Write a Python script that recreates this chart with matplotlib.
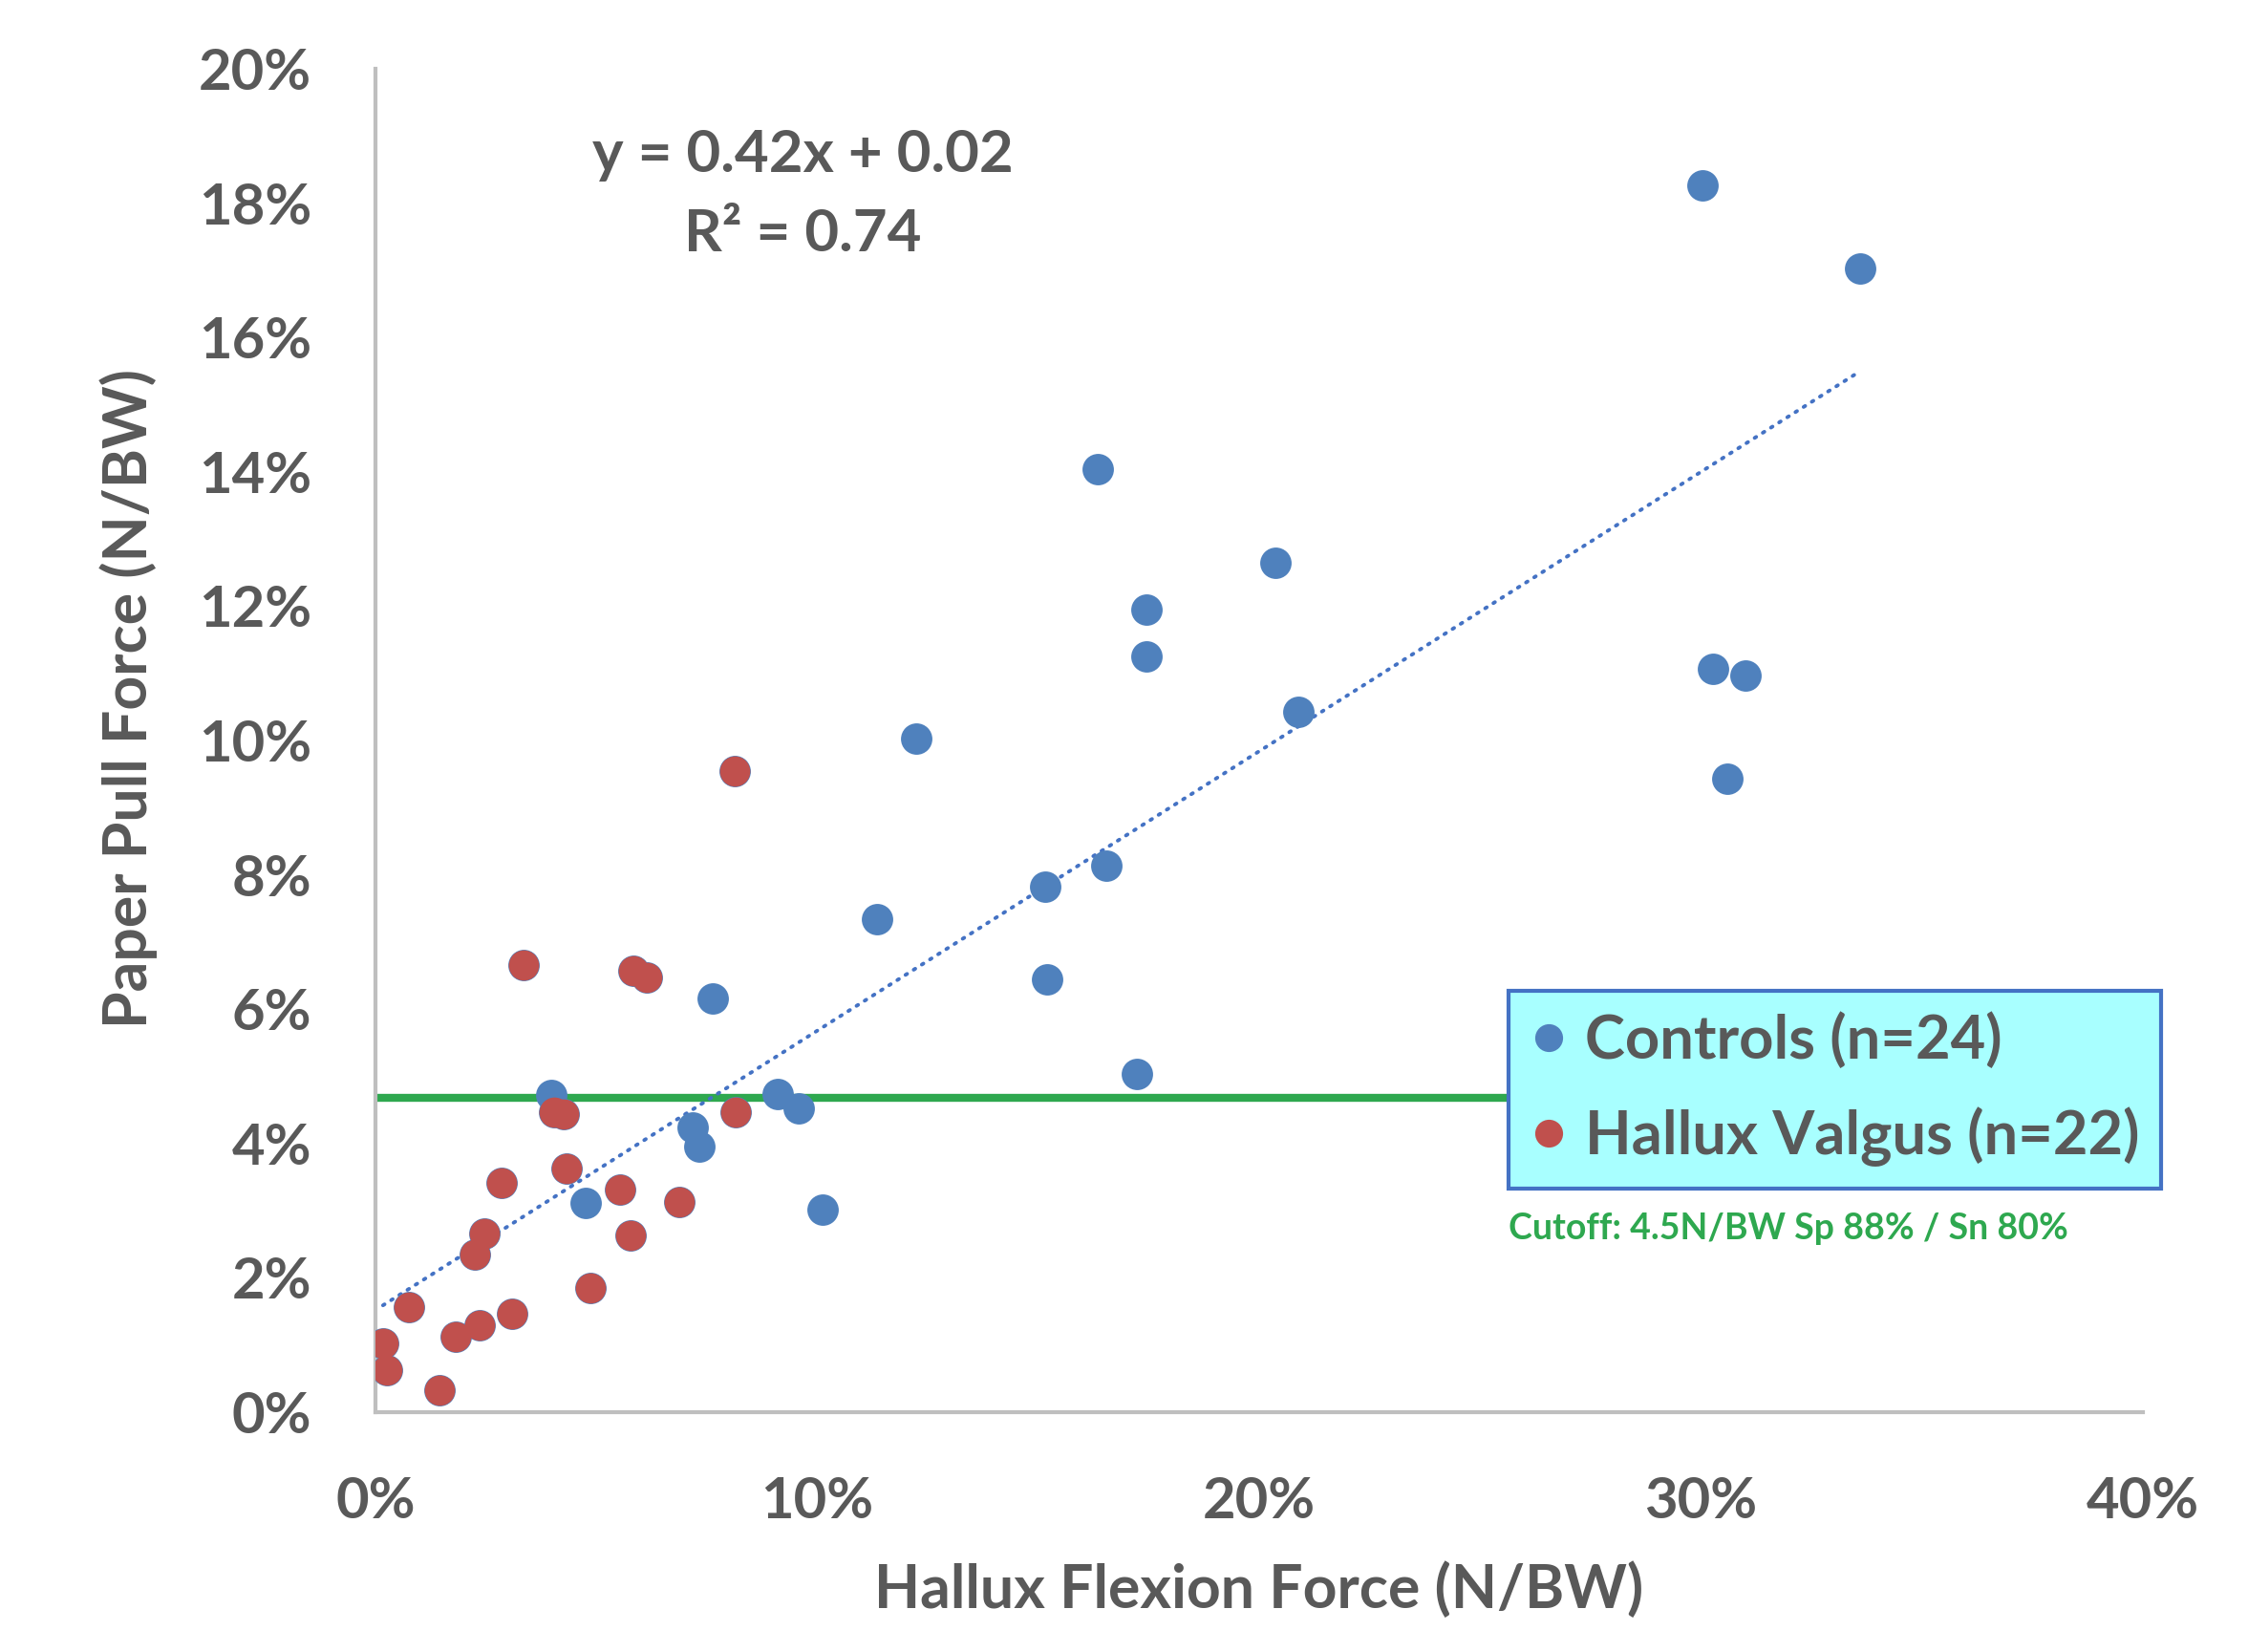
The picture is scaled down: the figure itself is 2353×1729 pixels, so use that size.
import numpy as np
import matplotlib
matplotlib.use("Agg")
import matplotlib.pyplot as plt
from matplotlib.lines import Line2D
from matplotlib.ticker import FuncFormatter

# ---- data (percent of body weight) ----
controls_x = [30.04, 33.61, 16.35, 20.37, 17.45, 17.45, 30.27, 31.01, 20.89, 12.23,
              30.59, 16.55, 15.15, 11.35, 7.64, 15.21, 17.23, 9.11, 9.58, 3.98,
              7.18, 7.34, 4.75, 10.12]
controls_y = [18.27, 17.03, 14.04, 12.64, 11.95, 11.25, 11.06, 10.97, 10.42, 10.03,
              9.43, 8.13, 7.83, 7.34, 6.16, 6.45, 5.04, 4.74, 4.53, 4.72,
              4.24, 3.96, 3.11, 3.01]
hv_x = [3.36, 5.83, 6.14, 8.15, 4.05, 4.25, 4.32, 2.86, 5.54, 6.87, 5.78,
        2.47, 2.24, 4.86, 0.76, 3.09, 2.36, 1.81, 0.17, 0.25, 1.44, 8.14]
hv_y = [6.66, 6.57, 6.47, 4.46, 4.47, 4.44, 3.63, 3.41, 3.32, 3.13, 2.63,
        2.66, 2.35, 1.85, 1.56, 1.46, 1.30, 1.12, 1.03, 0.62, 0.33, 9.54]
# trend line as drawn in the picture (percent units)
trend_slope = 0.416
trend_intercept = 1.52
cutoff_y = 4.68
x_ticks = [0, 10, 20, 30, 40]
y_ticks = [0, 2, 4, 6, 8, 10, 12, 14, 16, 18, 20]
legend_labels = ["Controls (n=24)", "Hallux Valgus (n=22)"]
equation_text = "y = 0.42x + 0.02"
r2_text = "R\u00b2 = 0.74"
cutoff_text = "Cutoff: 4.5N/BW Sp 88% / Sn 80%"

BLUE = "#4F81BD"
RED = "#C0504D"
GREEN = "#2EA84F"
GREY = "#595959"
FONT = ["Lato", "DejaVu Sans"]

plt.rcParams["font.family"] = FONT
plt.rcParams["font.weight"] = "bold"

fig = plt.figure(figsize=(23.53, 17.29), dpi=100)
ax = fig.add_axes([393/2353, 1 - 1478/1729, (2243-393)/2353, (1478-72)/1729])

ax.set_xlim(0, 40)
ax.set_ylim(0, 20)

# trend line spanning the data range
all_x = np.array(controls_x + hv_x)
xs = np.array([all_x.min(), all_x.max()])
ax.plot(xs, trend_slope*xs + trend_intercept, color="#4472C4", lw=2.8,
        linestyle=(0, (0.5, 2.1)), dash_capstyle="round", zorder=2)

# cutoff line
ax.axhline(cutoff_y, color=GREEN, lw=6, zorder=1)

ms = 560
ax.scatter(controls_x, controls_y, s=ms, color=BLUE, zorder=3, linewidths=0)
ax.scatter(hv_x, hv_y, s=ms, color=BLUE, zorder=3, linewidths=0)
ax.scatter(hv_x, hv_y, s=ms*0.93, color=RED, zorder=4, linewidths=0)

ax.set_xticks(x_ticks)
ax.set_yticks(y_ticks)
fmt = FuncFormatter(lambda v, p: f"{v:.0f}%")
ax.xaxis.set_major_formatter(fmt)
ax.yaxis.set_major_formatter(fmt)
ax.tick_params(length=0, labelsize=43, labelcolor=GREY)
ax.tick_params(axis="x", pad=48)
ax.tick_params(axis="y", pad=48)
for lab in ax.get_xticklabels() + ax.get_yticklabels():
    lab.set_fontweight("bold")

for s in ["top", "right"]:
    ax.spines[s].set_visible(False)
for s in ["left", "bottom"]:
    ax.spines[s].set_color("#BFBFBF")
    ax.spines[s].set_linewidth(3)

ax.set_xlabel("Hallux Flexion Force (N/BW)", fontsize=45, fontweight="bold",
              color=GREY, labelpad=26)
ax.set_ylabel("Paper Pull Force (N/BW)", fontsize=45, fontweight="bold",
              color=GREY, labelpad=31)
ax.yaxis.label.set_y(0.531)

# equation
fig.text(840/2353, 1 - 162/1729, equation_text, ha="center", va="center",
         fontsize=44.5, fontweight="bold", color=GREY)
fig.text(840/2353, 1 - 245/1729, r2_text, ha="center", va="center",
         fontsize=44.5, fontweight="bold", color=GREY)

handles = [Line2D([], [], marker="o", linestyle="", markersize=21,
                  markerfacecolor=BLUE, markeredgewidth=0),
           Line2D([], [], marker="o", linestyle="", markersize=21,
                  markerfacecolor=RED, markeredgewidth=0)]
leg = ax.legend(handles, legend_labels, loc="upper left",
                bbox_to_anchor=(1579/2353, 1 - 1037/1729),
                bbox_transform=fig.transFigure, frameon=True, fancybox=False,
                facecolor="#A8FFFF", edgecolor="#4472C4", framealpha=1,
                prop={"family": FONT, "weight": "bold", "size": 45.5},
                handletextpad=0.3, borderpad=0.36, labelspacing=0.62,
                handlelength=0.6, borderaxespad=0)
leg.get_frame().set_linewidth(3)
for t in leg.get_texts():
    t.set_color(GREY)
leg.set_zorder(6)

fig.text(1579/2353, 1 - 1286/1729, cutoff_text, ha="left", va="center",
         fontsize=27, fontweight="bold", color=GREEN)

fig.savefig("out.png", dpi=100)
